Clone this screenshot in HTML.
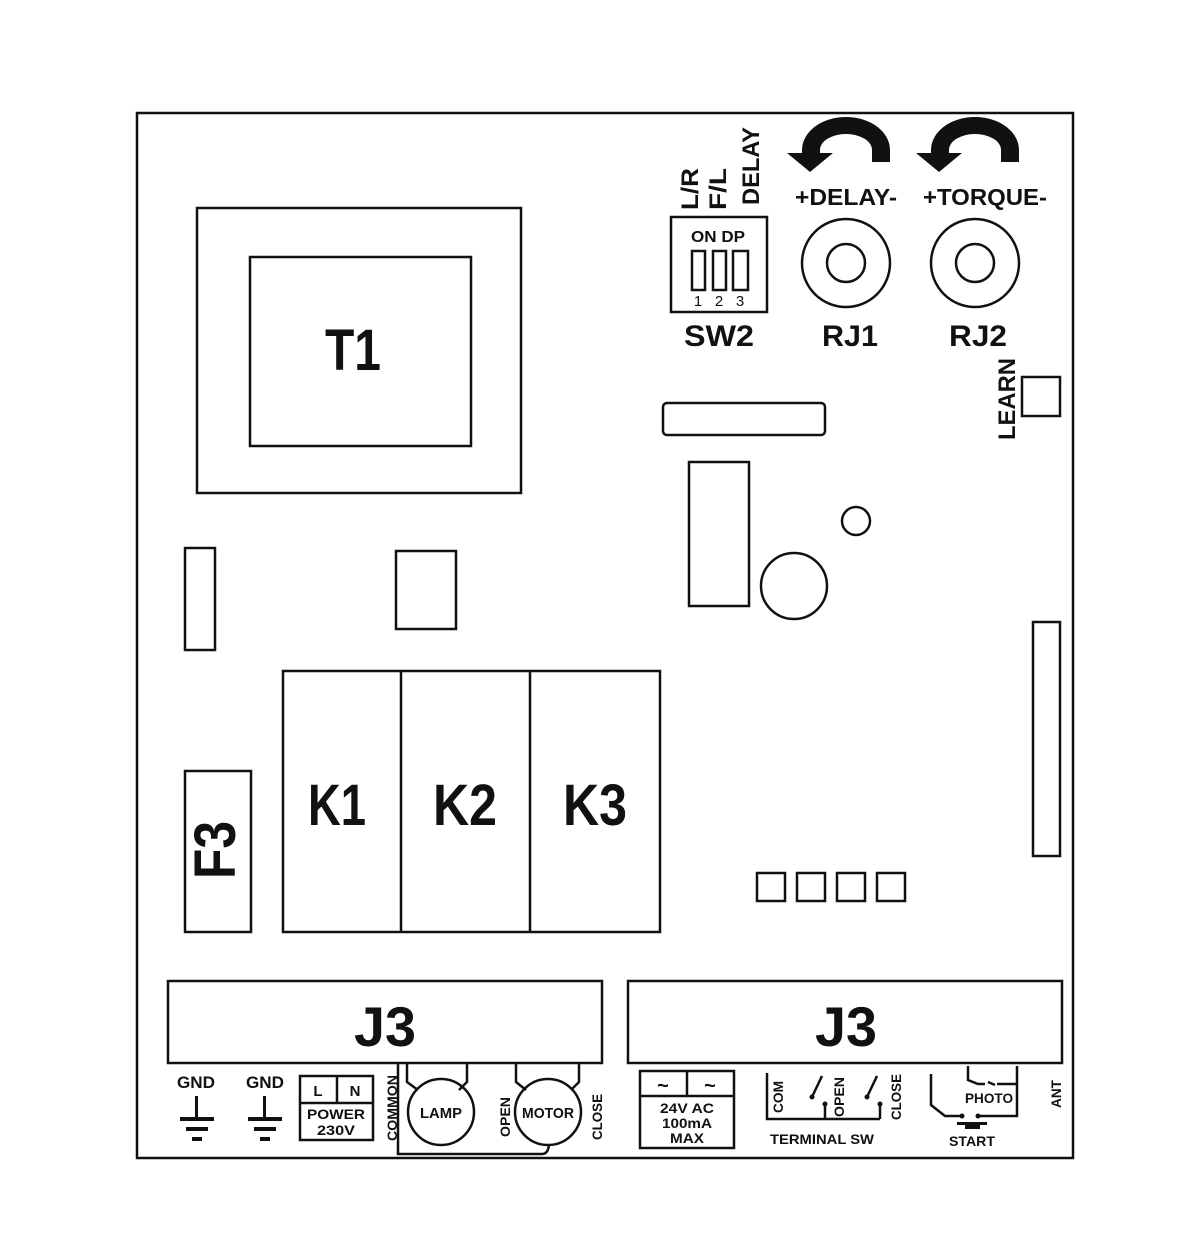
<!DOCTYPE html>
<html><head><meta charset="utf-8"><style>html,body{margin:0;padding:0;background:#fff}svg{display:block}</style></head>
<body>
<svg width="1200" height="1256" viewBox="0 0 1200 1256" xmlns="http://www.w3.org/2000/svg" font-family="Liberation Sans, sans-serif" font-weight="bold">
<g fill="none" stroke="#111" stroke-width="2.5">
<rect x="137" y="113" width="936" height="1045"/>
<rect x="197" y="208" width="324" height="285"/>
<rect x="250" y="257" width="221" height="189"/>
<rect x="185" y="548" width="30" height="102"/>
<rect x="396" y="551" width="60" height="78"/>
<rect x="283" y="671" width="377" height="261"/>
<line x1="401" y1="671" x2="401" y2="932"/>
<line x1="530" y1="671" x2="530" y2="932"/>
<rect x="185" y="771" width="66" height="161"/>
<rect x="663" y="403" width="162" height="32" rx="4"/>
<rect x="689" y="462" width="60" height="144"/>
<circle cx="794" cy="586" r="33"/>
<circle cx="856" cy="521" r="14"/>
<rect x="1022" y="377" width="38" height="39"/>
<rect x="1033" y="622" width="27" height="234"/>
<rect x="757" y="873" width="28" height="28"/>
<rect x="797" y="873" width="28" height="28"/>
<rect x="837" y="873" width="28" height="28"/>
<rect x="877" y="873" width="28" height="28"/>
<rect x="168" y="981" width="434" height="82"/>
<rect x="628" y="981" width="434" height="82"/>
<rect x="671" y="217" width="96" height="95"/>
<rect x="692" y="251" width="13" height="39"/>
<rect x="713" y="251" width="13" height="39"/>
<rect x="733" y="251" width="15" height="39"/>
<circle cx="846" cy="263" r="44"/>
<circle cx="846" cy="263" r="19"/>
<circle cx="975" cy="263" r="44"/>
<circle cx="975" cy="263" r="19"/>
<rect x="300" y="1076" width="73" height="64"/>
<line x1="300" y1="1103" x2="373" y2="1103"/>
<line x1="337" y1="1076" x2="337" y2="1103"/>
<circle cx="441" cy="1112" r="33"/>
<circle cx="548" cy="1112" r="33"/>
<polyline points="407,1063 407,1082 418,1090"/>
<polyline points="467,1063 467,1082 459,1090"/>
<polyline points="516,1063 516,1082 526,1090"/>
<polyline points="579,1063 579,1082 571,1090"/>
<path d="M398,1063 L398,1154 L542,1154 Q548,1154 549,1145"/>
<rect x="640" y="1071" width="94" height="77"/>
<line x1="640" y1="1096" x2="734" y2="1096"/>
<line x1="687" y1="1071" x2="687" y2="1096"/>
<polyline points="767,1073 767,1119 880,1119"/>
<line x1="825" y1="1104" x2="825" y2="1119"/>
<line x1="880" y1="1104" x2="880" y2="1119"/>
<line x1="812" y1="1097" x2="822" y2="1076"/>
<line x1="867" y1="1097" x2="877" y2="1076"/>
<polyline points="931,1074 931,1105 945,1116 961,1116"/>
<polyline points="979,1116 1017,1116 1017,1066"/>
<polyline points="968,1066 968,1080 978,1084 985,1084"/>
<polyline points="988,1082 995,1085"/>
<line x1="997" y1="1084" x2="1017" y2="1084"/>
</g>
<g fill="#111">
<circle cx="812" cy="1097" r="2.5"/><circle cx="825" cy="1104" r="2.5"/>
<circle cx="867" cy="1097" r="2.5"/><circle cx="880" cy="1104" r="2.5"/>
<circle cx="962" cy="1116" r="2.5"/><circle cx="978" cy="1116" r="2.5"/>
<rect x="957" y="1122" width="30" height="3"/><rect x="965" y="1125" width="15" height="4"/>
<rect x="195" y="1096" width="3" height="22"/><rect x="180" y="1117" width="34" height="4"/><rect x="186" y="1127" width="22" height="4"/><rect x="192" y="1137" width="10" height="4"/>
<rect x="263" y="1096" width="3" height="22"/><rect x="248" y="1117" width="34" height="4"/><rect x="254" y="1127" width="22" height="4"/><rect x="260" y="1137" width="10" height="4"/>
<path d="M802,154 L802,150 A44,33 0 0 1 890,150 L890,162 L872,162 L872,150 A26,16 0 0 0 820,150 L820,154 Z"/>
<polygon points="787,153 833,153 810,172"/>
<path d="M931,154 L931,150 A44,33 0 0 1 1019,150 L1019,162 L1001,162 L1001,150 A26,16 0 0 0 949,150 L949,154 Z"/>
<polygon points="916,153 962,153 939,172"/>
</g>
<g fill="#111" text-anchor="middle">
<text x="353" y="370" font-size="58" textLength="56" lengthAdjust="spacingAndGlyphs">T1</text>
<text x="337" y="825" font-size="58" textLength="58" lengthAdjust="spacingAndGlyphs">K1</text>
<text x="465" y="825" font-size="58" textLength="64" lengthAdjust="spacingAndGlyphs">K2</text>
<text x="595" y="825" font-size="58" textLength="64" lengthAdjust="spacingAndGlyphs">K3</text>
<text transform="translate(235,850) rotate(-90)" font-size="58" textLength="58" lengthAdjust="spacingAndGlyphs">F3</text>
<text x="385" y="1046" font-size="56" textLength="62" lengthAdjust="spacingAndGlyphs">J3</text>
<text x="846" y="1046" font-size="56" textLength="62" lengthAdjust="spacingAndGlyphs">J3</text>
<text x="718" y="242" font-size="16" textLength="54" lengthAdjust="spacingAndGlyphs">ON DP</text>
<text x="698" y="306" font-size="15" font-weight="normal">1</text>
<text x="719" y="306" font-size="15" font-weight="normal">2</text>
<text x="740" y="306" font-size="15" font-weight="normal">3</text>
<text x="719" y="346" font-size="30" textLength="70" lengthAdjust="spacingAndGlyphs">SW2</text>
<text x="850" y="346" font-size="30" textLength="56" lengthAdjust="spacingAndGlyphs">RJ1</text>
<text x="978" y="346" font-size="30" textLength="58" lengthAdjust="spacingAndGlyphs">RJ2</text>
<text x="846" y="205" font-size="23" textLength="102" lengthAdjust="spacingAndGlyphs">+DELAY-</text>
<text x="985" y="205" font-size="23" textLength="124" lengthAdjust="spacingAndGlyphs">+TORQUE-</text>
<text transform="translate(698,210) rotate(-90)" text-anchor="start" font-size="24" textLength="42" lengthAdjust="spacingAndGlyphs">L/R</text>
<text transform="translate(726,210) rotate(-90)" text-anchor="start" font-size="24" textLength="42" lengthAdjust="spacingAndGlyphs">F/L</text>
<text transform="translate(759,205) rotate(-90)" text-anchor="start" font-size="24" textLength="78" lengthAdjust="spacingAndGlyphs">DELAY</text>
<text transform="translate(1015,440) rotate(-90)" text-anchor="start" font-size="24" textLength="82" lengthAdjust="spacingAndGlyphs">LEARN</text>
<text x="196" y="1088" font-size="17" textLength="38" lengthAdjust="spacingAndGlyphs">GND</text>
<text x="265" y="1088" font-size="17" textLength="38" lengthAdjust="spacingAndGlyphs">GND</text>
<text x="318" y="1096" font-size="15">L</text>
<text x="355" y="1096" font-size="15">N</text>
<text x="336" y="1119" font-size="14" textLength="58" lengthAdjust="spacingAndGlyphs">POWER</text>
<text x="336" y="1135" font-size="14" textLength="38" lengthAdjust="spacingAndGlyphs">230V</text>
<text transform="translate(397,1108) rotate(-90)" font-size="14" textLength="66" lengthAdjust="spacingAndGlyphs">COMMON</text>
<text x="441" y="1118" font-size="15" textLength="42" lengthAdjust="spacingAndGlyphs">LAMP</text>
<text x="548" y="1118" font-size="15" textLength="52" lengthAdjust="spacingAndGlyphs">MOTOR</text>
<text transform="translate(510,1117) rotate(-90)" font-size="14" textLength="40" lengthAdjust="spacingAndGlyphs">OPEN</text>
<text transform="translate(602,1117) rotate(-90)" font-size="14" textLength="46" lengthAdjust="spacingAndGlyphs">CLOSE</text>
<text x="663" y="1092" font-size="20">~</text>
<text x="710" y="1092" font-size="20">~</text>
<text x="687" y="1113" font-size="14" textLength="54" lengthAdjust="spacingAndGlyphs">24V AC</text>
<text x="687" y="1128" font-size="14" textLength="50" lengthAdjust="spacingAndGlyphs">100mA</text>
<text x="687" y="1143" font-size="14" textLength="34" lengthAdjust="spacingAndGlyphs">MAX</text>
<text transform="translate(783,1097) rotate(-90)" font-size="14" textLength="32" lengthAdjust="spacingAndGlyphs">COM</text>
<text transform="translate(844,1097) rotate(-90)" font-size="14" textLength="40" lengthAdjust="spacingAndGlyphs">OPEN</text>
<text transform="translate(901,1097) rotate(-90)" font-size="14" textLength="46" lengthAdjust="spacingAndGlyphs">CLOSE</text>
<text x="822" y="1144" font-size="14" textLength="104" lengthAdjust="spacingAndGlyphs">TERMINAL SW</text>
<text x="989" y="1103" font-size="14" textLength="48" lengthAdjust="spacingAndGlyphs">PHOTO</text>
<text x="972" y="1146" font-size="14" textLength="46" lengthAdjust="spacingAndGlyphs">START</text>
<text transform="translate(1061,1094) rotate(-90)" font-size="14" textLength="28" lengthAdjust="spacingAndGlyphs">ANT</text>
</g>
</svg>
</body></html>
